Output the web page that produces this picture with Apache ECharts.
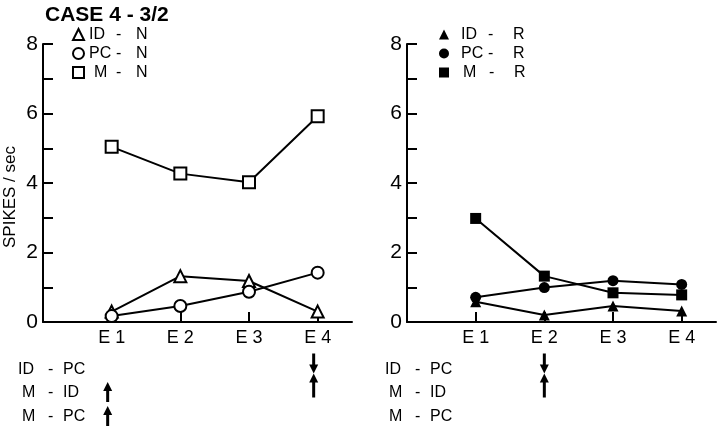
<!DOCTYPE html>
<html><head><meta charset="utf-8">
<script src="https://cdn.jsdelivr.net/npm/echarts@6/dist/echarts.min.js"></script>
<style>html,body{margin:0;padding:0;background:#fff}#c{width:720px;height:428px}</style>
</head><body><div id="c"></div>
<script>
// ---- data ----
const categories = ['E 1', 'E 2', 'E 3', 'E 4'];
const yTicks = [0, 2, 4, 6, 8];
const idN = [0.30, 1.32, 1.18, 0.30];
const pcN = [0.17, 0.46, 0.87, 1.42];
const mN  = [5.04, 4.27, 4.02, 5.92];
const idR = [0.58, 0.20, 0.46, 0.32];
const pcR = [0.71, 0.99, 1.19, 1.08];
const mR  = [2.98, 1.32, 0.84, 0.78];
const annotRows = ['ID - PC', 'M - ID', 'M - PC'];
const leftArrows = [{cat: 1, row: 1, dir: 'up'}, {cat: 1, row: 2, dir: 'up'}, {cat: 4, row: 0, dir: 'converge'}];
const rightArrows = [{cat: 2, row: 0, dir: 'converge'}];

// ---- chart ----
const FONT = 'Liberation Sans, Arial, Helvetica, sans-serif';
const chart = echarts.init(document.getElementById('c'), null, {renderer: 'canvas'});
const toPts = arr => arr.map((v, i) => [i + 1, v]);
const catVals = categories.map((c, i) => i + 1);

function mkX(i) {
  return {
    type: 'value', gridIndex: i, min: 0, max: 4.5, interval: 1,
    axisLine: {show: true, onZero: false, lineStyle: {color: '#000', width: 2}},
    axisTick: {show: true, inside: true, length: 10, lineStyle: {color: '#000', width: 2}, customValues: catVals},
    axisLabel: {customValues: catVals, formatter: v => categories[Math.round(v) - 1] || '', margin: 7,
      fontSize: 18, color: '#000', fontFamily: FONT},
    splitLine: {show: false}
  };
}
function mkY(i) {
  return {
    type: 'value', gridIndex: i, min: 0, max: 8, interval: 1,
    axisLine: {show: true, onZero: false, lineStyle: {color: '#000', width: 2}},
    axisTick: {show: true, inside: true, length: 10, lineStyle: {color: '#000', width: 2}},
    axisLabel: {customValues: yTicks, margin: 5, fontSize: 21, color: '#000', fontFamily: FONT},
    splitLine: {show: false}
  };
}
const openStyle = {color: '#fff', borderColor: '#000', borderWidth: 2};
const fillStyle = {color: '#000', borderColor: '#000', borderWidth: 0};
function mkS(name, data, gi, symbol, size, open) {
  return {
    name, type: 'line', xAxisIndex: gi, yAxisIndex: gi, data: toPts(data),
    symbol, symbolSize: size, showAllSymbol: true,
    lineStyle: {color: '#000', width: 2},
    itemStyle: open ? openStyle : fillStyle,
    emphasis: {disabled: true}, animation: false, z: 3
  };
}
const legendRich = {
  a: {width: 27, fontSize: 16, fontFamily: FONT, color: '#000'},
  am: {width: 22, padding: [0, 0, 0, 5], fontSize: 16, fontFamily: FONT, color: '#000'},
  b: {width: 20, fontSize: 16, fontFamily: FONT, color: '#000'},
  c: {fontSize: 16, fontFamily: FONT, color: '#000'}
};
const legendRichR = {
  a: {width: 27, padding: [0, 0, 0, 7], fontSize: 16, fontFamily: FONT, color: '#000'},
  am: {width: 26, padding: [0, 0, 0, 9], fontSize: 16, fontFamily: FONT, color: '#000'},
  b: {width: 25, fontSize: 16, fontFamily: FONT, color: '#000'},
  c: {fontSize: 16, fontFamily: FONT, color: '#000'}
};
const legendFmt = name => {
  const p = name.split(' ');
  return `{${p[0] === 'M' ? 'am' : 'a'}|${p[0]}}{b|-}{c|${p[2]}}`;
};
function legendItems(suffix, open) {
  const st = open ? openStyle : fillStyle;
  return [
    {name: 'ID - ' + suffix, icon: 'triangle', itemStyle: st},
    {name: 'PC - ' + suffix, icon: 'circle', itemStyle: st},
    {name: 'M - ' + suffix, icon: 'rect', itemStyle: st}
  ];
}

chart.setOption({
  backgroundColor: '#fff',
  animation: false,
  title: {text: 'CASE 4 - 3/2', left: 40, top: 0,
    textStyle: {fontSize: 21, fontWeight: 'bold', color: '#000', fontFamily: FONT}},
  grid: [
    {left: 43, top: 44, width: 309, height: 278},
    {left: 407, top: 44, width: 309, height: 278}
  ],
  xAxis: [mkX(0), mkX(1)],
  yAxis: [mkY(0), mkY(1)],
  legend: [
    {orient: 'vertical', left: 67, top: 21, itemWidth: 11, itemHeight: 11, itemGap: 2, selectedMode: false,
      data: legendItems('N', true), formatter: legendFmt, textStyle: {rich: legendRich, lineHeight: 17}},
    {orient: 'vertical', left: 434, top: 21, itemWidth: 10, itemHeight: 10, itemGap: 2, selectedMode: false,
      data: legendItems('R', false), formatter: legendFmt, textStyle: {rich: legendRichR, lineHeight: 17}}
  ],
  series: [
    mkS('ID - N', idN, 0, 'triangle', 12, true),
    mkS('PC - N', pcN, 0, 'circle', 12, true),
    mkS('M - N', mN, 0, 'rect', 12, true),
    mkS('ID - R', idR, 1, 'triangle', 11, false),
    mkS('PC - R', pcR, 1, 'circle', 11, false),
    mkS('M - R', mR, 1, 'rect', 11, false)
  ]
});

// ---- annotations ----
const rowY = [370, 393, 417];
const annotX = [18, 385];
function arrowUp(x, tip, tail) {
  return [
    {type: 'line', shape: {x1: x, y1: tail, x2: x, y2: tip + 7}, style: {stroke: '#000', lineWidth: 3}},
    {type: 'polygon', shape: {points: [[x - 4.5, tip + 9], [x + 4.5, tip + 9], [x, tip]]}, style: {fill: '#000'}}
  ];
}
function arrowDown(x, tip, tail) {
  return [
    {type: 'line', shape: {x1: x, y1: tail, x2: x, y2: tip - 7}, style: {stroke: '#000', lineWidth: 3}},
    {type: 'polygon', shape: {points: [[x - 4.5, tip - 9], [x + 4.5, tip - 9], [x, tip]]}, style: {fill: '#000'}}
  ];
}
const annRich = {
  a: {width: 30, fontSize: 16, fontFamily: FONT, color: '#000'},
  am: {width: 26, padding: [0, 0, 0, 4], fontSize: 16, fontFamily: FONT, color: '#000'},
  b: {width: 15, fontSize: 16, fontFamily: FONT, color: '#000'},
  c: {fontSize: 16, fontFamily: FONT, color: '#000'}
};
const graphics = [];
graphics.push({type: 'text', x: 10, y: 197, rotation: Math.PI / 2,
  style: {text: 'SPIKES / sec', fontSize: 17, fontFamily: FONT, fill: '#000', align: 'center', verticalAlign: 'middle'}});
[0, 1].forEach(p => {
  annotRows.forEach((r, i) => {
    const parts = r.split(' ');
    graphics.push({type: 'text', x: annotX[p], y: rowY[i],
      style: {text: `{${parts[0] === 'M' ? 'am' : 'a'}|${parts[0]}}{b|-}{c|${parts[2]}}`, rich: annRich,
        verticalAlign: 'middle', align: 'left', fontSize: 16}});
  });
  const list = p === 0 ? leftArrows : rightArrows;
  list.forEach(a => {
    const x = chart.convertToPixel({xAxisIndex: p}, a.cat) - (p === 0 ? 4 : 0);
    if (a.dir === 'up') {
      graphics.push(...arrowUp(x, rowY[a.row] - 11, rowY[a.row] + 9));
    } else {
      const m = (rowY[a.row] + rowY[a.row + 1]) / 2 - 8;
      graphics.push(...arrowDown(x, m, m - 20));
      graphics.push(...arrowUp(x, m, m + 24));
    }
  });
});
chart.setOption({graphic: graphics});
</script>
</body></html>
